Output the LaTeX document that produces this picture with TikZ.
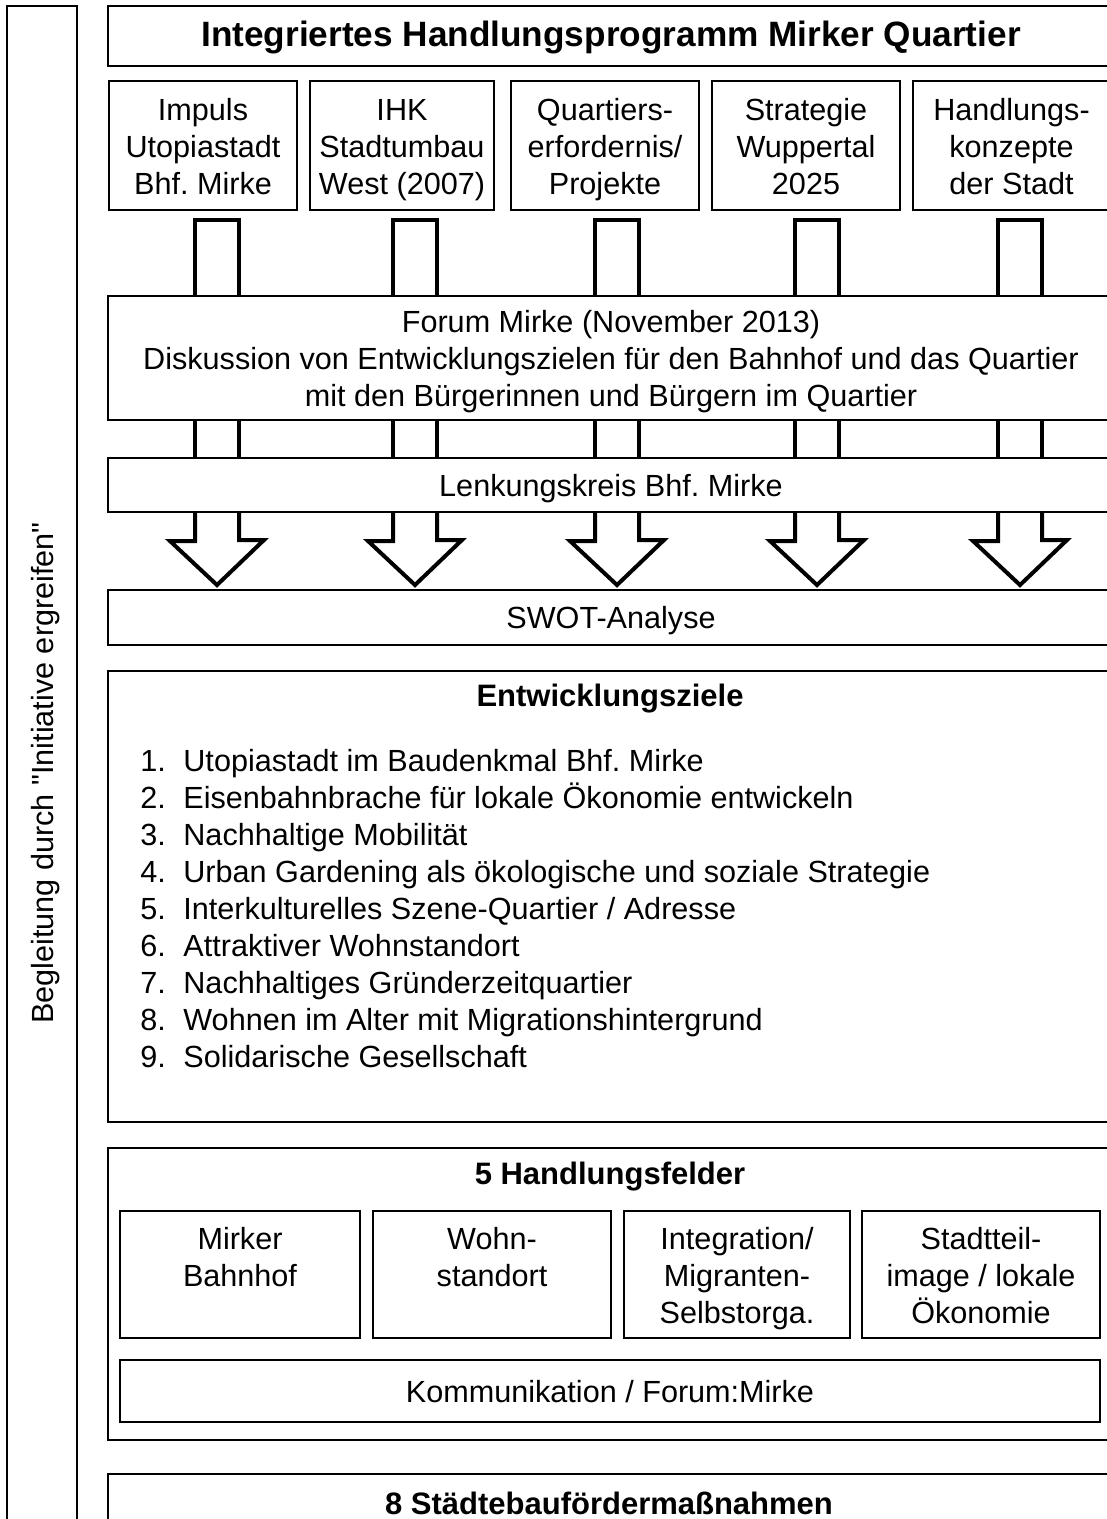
\documentclass[tikz,border=0pt]{standalone}
\usepackage{fontspec}
\setmainfont{Liberation Sans}
\usetikzlibrary{positioning,calc}
\frenchspacing
\newcommand\boxtop{\rule{0pt}{16pt}}
\newcommand\boxbot{\rule[-5pt]{0pt}{5pt}}
\newcommand\firstrow{\rule{0pt}{17pt}}

\tikzset{
  box/.style={draw, line width=1pt, fill=white, inner sep=0pt, align=center,
    font=\fontsize{15.3}{18.5}\selectfont,
    execute at begin node=\boxtop, execute at end node=\boxbot},
  headline/.style={inner sep=0pt, font=\fontsize{15.5}{18}\selectfont\bfseries},
  goal/.style={inner sep=0pt, anchor=base west, font=\fontsize{15.3}{18.5}\selectfont},
  pipe/.style={line width=2pt, line join=miter},
}

\begin{document}
\begin{tikzpicture}[x=0.5pt, y=-0.5pt]
        % Page frame (the reference is cut off at the right and at the bottom)
        \useasboundingbox (0,0) rectangle (1107,1519);
        \clip (0,0) rectangle (1107,1519);
        \fill[white] (0,0) rectangle (1107,1519);
        % Side bar
        \node[box, rotate=90, minimum width=767pt, minimum height=35pt] (bar) at (42,773)
            {Begleitung durch \textquotedbl Initiative ergreifen\textquotedbl};
        % Title
        \node[box, minimum width=503pt, minimum height=30pt,
            font=\fontsize{17.6}{20}\selectfont\bfseries] (title) at (611,36)
            {Integriertes Handlungsprogramm Mirker Quartier};
        % Sources
        \node[box, minimum width=94pt, minimum height=64.5pt] (src1) at (203,145.5)
            {\firstrow Impuls\\Utopiastadt\\Bhf. Mirke};
        \node[box, minimum width=92pt, minimum height=64.5pt] (src2) at (402,145.5)
            {\firstrow IHK\\Stadtumbau\\West (2007)};
        \node[box, minimum width=94pt, minimum height=64.5pt] (src3) at (605,145.5)
            {\firstrow Quartiers-\\erfordernis/\\Projekte};
        \node[box, minimum width=94pt, minimum height=64.5pt] (src4) at (806,145.5)
            {\firstrow Strategie\\Wuppertal\\2025};
        \node[box, minimum width=98.5pt, minimum height=64.5pt] (src5) at (1011.5,145.5)
            {\firstrow Handlungs-\\konzepte\\der Stadt};
        % Forum and steering group
        \node[box, minimum width=503pt, minimum height=62pt] (forum) at (611,358)
            {\firstrow Forum Mirke (November 2013)\\Diskussion von Entwicklungszielen f\"ur den Bahnhof und das Quartier\\mit den B\"urgerinnen und B\"urgern im Quartier};
        \node[box, minimum width=503pt, minimum height=27pt] (lenk) at (611,485)
            {Lenkungskreis Bhf. Mirke};
        \node[box, minimum width=503pt, minimum height=27.5pt] (swot) at (611,617.5)
            {SWOT-Analyse};
        % Pipes and arrows
        \foreach \n/\c in {1/217,2/415,3/617,4/817,5/1020}{
            \coordinate (pl\n) at (\c-22,220);
            \coordinate (pr\n) at (\c+22,220);
            \draw[pipe] (pl\n |- forum.north) -- (pl\n) -- (pr\n) -- (pr\n |- forum.north);
            \draw[pipe] (pl\n |- forum.south) -- (pl\n |- lenk.north);
            \draw[pipe] (pr\n |- forum.south) -- (pr\n |- lenk.north);
            \draw[pipe] (pl\n |- lenk.south) -- ++(0,28) -- ++(-25,0) -- (\c,585)
                -- (\c+47,540) -- ++(-25,0) -- (pr\n |- lenk.south);
        }
        % Development goals
        \node[box, minimum width=503pt, minimum height=225.5pt] (ziele) at (611,896.5) {};
        \node[headline] (zielehead) at (610,699) {Entwicklungsziele};
        \foreach \i/\t in {1/{Utopiastadt im Baudenkmal Bhf. Mirke},
                           2/{Eisenbahnbrache f\"ur lokale \"Okonomie entwickeln},
                           3/{Nachhaltige Mobilit\"at},
                           4/{Urban Gardening als \"okologische und soziale Strategie},
                           5/{Interkulturelles Szene-Quartier / Adresse},
                           6/{Attraktiver Wohnstandort},
                           7/{Nachhaltiges Gr\"underzeitquartier},
                           8/{Wohnen im Alter mit Migrationshintergrund},
                           9/{Solidarische Gesellschaft}}{
            \node[goal] (num\i) at (140,734+37*\i) {\i.};
            \node[goal] (goal\i) at (183,734+37*\i) {\t};
        }
        % Fields of action
        \node[box, minimum width=503pt, minimum height=146pt] (felder) at (611,1294) {};
        \node[headline] (felderhead) at (610,1177) {5 Handlungsfelder};
        \node[box, minimum width=120pt, minimum height=63.5pt] (feld1) at (240,1274.5)
            {\firstrow Mirker\\Bahnhof\\~};
        \node[box, minimum width=119pt, minimum height=63.5pt] (feld2) at (492,1274.5)
            {\firstrow Wohn-\\standort\\~};
        \node[box, minimum width=113pt, minimum height=63.5pt] (feld3) at (737,1274.5)
            {\firstrow Integration/\\Migranten-\\Selbstorga.};
        \node[box, minimum width=119pt, minimum height=63.5pt] (feld4) at (981,1274.5)
            {\firstrow Stadtteil-\\image / lokale\\\"Okonomie};
        \node[box, minimum width=490pt, minimum height=31pt] (komm) at (610,1391)
            {Kommunikation / Forum:Mirke};
        % Urban development measures
        \node[box, minimum width=503pt, minimum height=43pt] (foerder) at (611,1517) {};
        \node[headline] (foerderhead) at (609,1503) {8 St\"adtebauf\"orderma\ss nahmen};
\end{tikzpicture}
\end{document}
